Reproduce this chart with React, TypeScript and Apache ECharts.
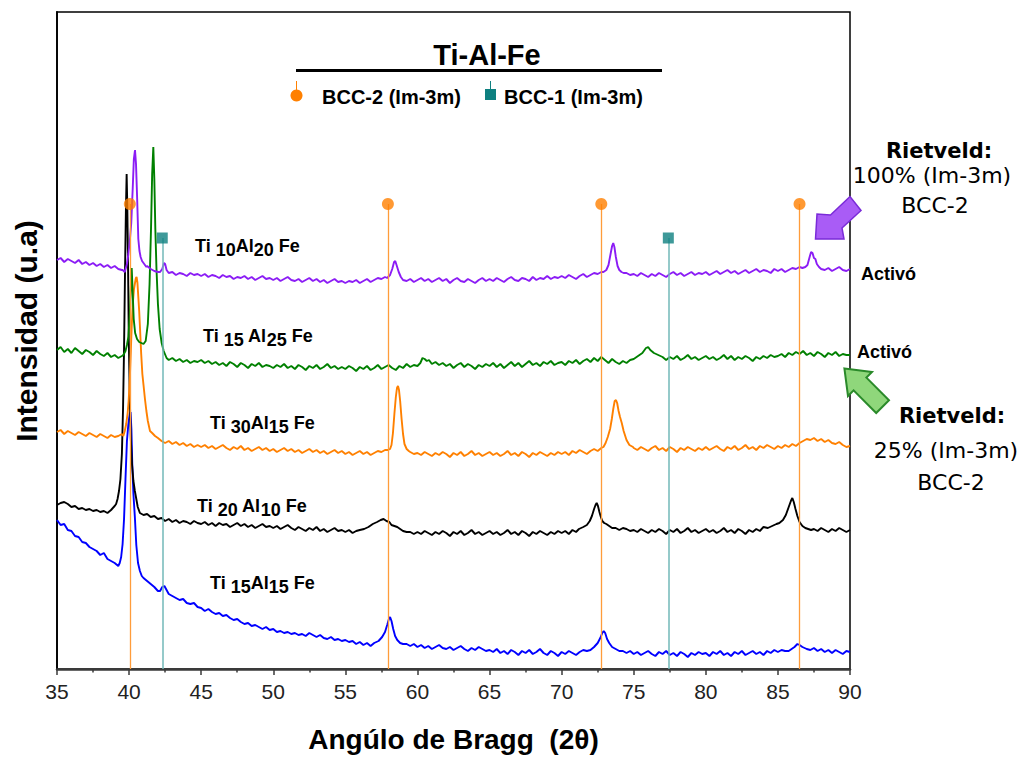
import React, { useEffect, useRef } from "react";
import * as echarts from "echarts";

// ---- sampling grid of the base (noise) curves: 35 .. 90 step 0.25 ----
const X0 = 35;
const STEP = 0.25;

// ---- Ti10Al20Fe (purple) ----
const purpleBase = [
  409,411,407,410,408,406,409,405,407,404,406,403,405,402,404,401,403,400,399,401,
  400,400,400,402,401,403,400,398,397,399,398,396,397,394,396,395,393,396,394,395,
  393,395,392,394,393,391,394,392,393,390,392,391,393,390,392,389,391,393,390,391,
  389,391,388,390,392,389,388,390,387,389,391,388,390,387,389,386,388,390,387,388,
  386,388,387,389,386,388,390,387,389,391,390,392,391,393,391,390,389,388,390,387,
  389,391,388,390,387,389,391,388,390,386,389,391,388,387,390,388,386,389,391,388,
  390,388,391,389,387,390,392,389,388,391,390,388,392,389,391,390,393,390,392,391,
  393,391,394,392,390,393,395,392,394,396,395,397,398,400,400,400,398,397,396,394,
  395,393,396,394,392,395,393,396,394,392,395,397,394,396,393,395,397,394,396,395,
  397,394,396,398,395,397,399,396,398,395,397,399,396,398,400,397,399,398,396,400,
  398,400,397,399,401,400,402,401,403,404,403,402,401,399,401,398,400,402,399,398,
  400,
];
const purplePeaks: [number, number][][] = [
  [[39.55,399],[39.7,397],[39.85,405],[39.95,415],[40.05,428],[40.15,446],[40.25,480],[40.33,510],[40.41,519],[40.48,505],[40.56,470],[40.64,430],[40.72,418],[40.8,412],[40.9,408],[41.0,406],[41.1,404],[41.2,402]],
  [[42.15,397],[42.3,400],[42.42,406],[42.5,405],[42.6,399],[42.75,396]],
  [[57.9,391],[58.1,394],[58.25,400],[58.38,407],[58.46,408],[58.55,404],[58.7,397],[58.85,392],[59.0,389]],
  [[72.9,397],[73.1,399],[73.25,404],[73.38,414],[73.5,423],[73.58,426],[73.66,422],[73.76,412],[73.88,403],[74.0,399],[74.15,397],[74.3,396]],
  [[86.7,401],[86.9,402],[87.05,404],[87.2,412],[87.3,417],[87.4,416],[87.5,411],[87.6,410],[87.7,405],[87.85,402],[88.0,400]],
];

// ---- Ti15Al25Fe (green) ----
const greenBase = [
  319,322,317,320,316,321,318,315,319,317,314,318,315,313,316,312,314,311,313,315,
  320,320,320,320,320,320,320,320,320,320,312,309,311,308,310,307,309,306,308,307,
  309,306,308,305,307,304,306,303,307,305,302,306,304,301,305,303,306,302,304,303,
  301,304,302,305,301,303,300,304,302,299,303,301,304,300,302,305,301,303,300,302,
  300,303,301,298,302,300,303,299,301,304,300,302,304,301,299,303,301,305,302,304,
  303,306,310,308,305,307,304,306,303,305,301,304,306,302,305,303,300,304,302,305,
  303,306,302,305,301,304,307,303,306,302,305,308,304,306,303,307,305,308,304,306,
  307,304,308,306,309,305,308,310,307,311,308,312,309,306,310,307,305,308,306,309,
  310,312,315,318,320,318,315,312,311,309,312,310,313,309,311,314,310,312,309,311,
  313,310,312,309,311,314,310,313,309,312,310,313,311,308,312,310,313,311,314,312,
  313,315,312,316,314,317,315,318,314,316,313,317,315,312,316,314,317,313,315,314,
  314,
];
const greenPeaks: [number, number][][] = [
  [[39.6,314],[39.75,318],[39.85,324],[39.95,332],[40.05,355],[40.13,385],[40.18,401],[40.24,380],[40.32,350],[40.42,336],[40.55,330],[40.7,327],[40.85,326],[41.0,325],[41.15,328],[41.3,345],[41.42,385],[41.52,440],[41.6,495],[41.68,522],[41.75,490],[41.82,440],[41.9,400],[42.0,365],[42.12,340],[42.26,326],[42.4,318],[42.6,311]],
  [[60.0,303],[60.2,306],[60.35,311],[60.5,310],[60.65,308],[60.8,309],[61.0,305]],
  [[75.0,310],[75.3,313],[75.6,316],[75.85,321],[76.0,322],[76.15,319],[76.4,316],[76.7,314],[77.0,312]],
];

// ---- Ti30Al15Fe (orange) ----
const orangeBase = [
  237,239,235,238,236,234,237,235,233,236,234,232,235,233,231,234,232,233,235,236,
  240,240,240,240,240,240,240,240,231,228,226,228,225,227,224,226,223,225,222,224,
  222,224,221,223,220,222,224,221,219,222,220,223,219,221,218,220,222,219,221,218,
  220,217,219,221,218,220,217,219,216,218,220,217,219,216,218,215,217,219,216,218,
  215,217,214,216,218,215,217,214,216,218,217,219,220,220,220,220,220,220,217,215,
  216,214,217,215,213,216,214,217,215,212,216,214,217,213,215,218,214,216,213,215,
  217,214,216,213,215,218,214,216,213,217,215,212,216,214,217,215,213,216,214,217,
  215,217,214,218,216,219,217,215,218,220,218,221,222,230,240,260,265,245,230,222,
  221,219,222,220,218,221,223,219,221,218,222,220,217,221,219,222,220,218,221,219,
  222,219,221,223,220,218,222,220,223,219,221,224,220,222,219,223,221,224,222,220,
  223,221,224,222,225,223,226,228,230,229,231,228,230,227,229,226,225,227,224,222,
  223,
];
const orangePeaks: [number, number][][] = [
  [[39.6,233],[39.7,238],[39.8,245],[39.9,256],[39.97,268],[40.05,290],[40.12,318],[40.18,342],[40.26,366],[40.34,380],[40.41,386],[40.47,391],[40.52,392],[40.58,386],[40.64,372],[40.7,358],[40.76,340],[40.84,315],[40.92,295],[41.0,284],[41.1,270],[41.2,258],[41.3,248],[41.45,238],[41.6,236],[41.8,233],[42.0,231]],
  [[57.95,219],[58.1,220],[58.2,224],[58.3,236],[58.4,255],[58.5,272],[58.58,281],[58.65,283],[58.72,279],[58.8,268],[58.9,250],[59.0,235],[59.1,225],[59.25,220],[59.4,218]],
  [[72.75,221],[72.9,222],[73.05,226],[73.2,232],[73.36,240],[73.48,250],[73.58,260],[73.68,268],[73.77,269],[73.85,266],[73.95,258],[74.05,252],[74.17,246],[74.3,238],[74.5,229],[74.7,224],[74.95,222]],
];

// ---- Ti20Al10Fe (black) ----
const blackBase = [
  164,166,167,165,162,163,160,161,159,160,158,159,157,158,156,159,163,170,170,170,
  170,170,170,156,154,155,152,153,150,151,148,150,147,149,146,148,147,145,148,146,
  145,147,144,146,143,146,144,145,142,144,146,143,145,142,144,141,143,145,142,143,
  141,143,140,142,144,141,139,142,140,138,141,139,142,138,140,137,139,141,138,139,
  137,139,136,138,140,140,140,140,140,140,140,140,140,140,140,140,140,140,137,135,
  137,135,138,136,134,137,135,138,136,133,137,135,138,134,136,139,135,137,134,136,
  138,135,137,134,136,139,135,137,134,138,136,133,137,135,138,136,134,137,135,138,
  136,138,135,139,137,140,140,140,140,140,140,140,140,140,140,141,139,141,140,138,
  139,137,140,138,136,139,137,140,138,135,139,137,140,136,138,141,137,139,136,138,
  140,137,139,136,138,141,137,139,136,140,138,135,139,137,140,138,145,145,145,145,
  145,145,145,145,145,145,145,145,145,145,140,138,141,139,137,140,138,141,139,137,
  139,
];
const blackPeaks: [number, number][][] = [
  [[39.1,165],[39.2,170],[39.3,178],[39.4,190],[39.5,215],[39.58,260],[39.65,320],[39.72,400],[39.78,460],[39.83,495],[39.88,460],[39.93,400],[39.98,330],[40.05,270],[40.12,230],[40.2,205],[40.3,188],[40.4,178],[40.5,170],[40.6,162]],
  [[56.0,139],[56.3,140],[56.6,142],[56.9,145],[57.2,147],[57.45,149],[57.65,150],[57.85,148],[58.05,147],[58.2,144],[58.4,143],[58.6,142],[58.8,140],[59.0,138],[59.25,137]],
  [[71.2,140],[71.5,142],[71.75,144],[71.95,148],[72.1,153],[72.25,160],[72.35,164],[72.43,166],[72.52,163],[72.62,157],[72.72,152],[72.82,148],[72.95,146],[73.1,145],[73.3,143],[73.5,141]],
  [[84.0,142],[84.3,141],[84.6,143],[84.9,145],[85.1,146],[85.35,149],[85.55,154],[85.75,162],[85.9,168],[86.0,171],[86.1,167],[86.22,160],[86.35,153],[86.5,147],[86.7,143],[86.9,141],[87.1,140],[87.3,139]],
];

// ---- Ti15Al15Fe (blue) ----
const blueBase = [
  149,144,145,139,138,133,132,127,126,122,120,118,114,116,110,108,106,103,110,110,
  110,110,110,110,90,88,85,82,78,80,80,80,73,71,69,70,66,65,66,62,
  61,58,60,57,55,56,53,54,51,49,50,47,45,46,43,44,42,40,42,39,
  40,37,38,36,37,35,36,34,35,33,36,34,32,34,31,30,32,29,30,28,
  29,27,28,25,27,24,26,23,30,30,30,30,30,30,30,30,30,25,23,25,
  22,24,21,23,20,22,24,21,20,22,19,21,23,20,18,21,19,22,20,18,
  19,17,20,16,18,15,19,17,14,18,16,19,15,17,20,16,14,18,16,13,
  17,15,18,16,14,17,19,18,25,25,25,25,25,25,25,25,25,18,16,18,
  15,17,14,16,18,15,13,17,15,18,14,16,13,17,15,12,16,14,17,15,
  16,13,17,15,18,14,16,13,17,15,18,14,16,18,15,17,14,18,16,19,
  17,19,18,22,22,22,22,22,22,19,21,18,20,17,19,16,19,17,15,18,
  17,
];
const bluePeaks: [number, number][][] = [
  [[39.35,106],[39.45,112],[39.55,125],[39.65,150],[39.75,190],[39.85,228],[39.95,245],[40.04,255],[40.1,257],[40.16,240],[40.22,205],[40.3,175],[40.4,152],[40.5,124],[40.62,106],[40.75,98],[40.88,93],[41.0,91]],
  [[42.15,78],[42.3,82],[42.45,83],[42.6,79],[42.75,75]],
  [[57.0,26],[57.3,28],[57.55,32],[57.75,37],[57.9,44],[58.02,50],[58.1,52],[58.2,48],[58.32,40],[58.45,33],[58.6,29],[58.8,26],[59.0,25]],
  [[72.0,19],[72.25,22],[72.5,26],[72.68,31],[72.82,36],[72.92,38],[73.02,36],[73.15,30],[73.3,26],[73.5,22],[73.75,20],[74.0,18]],
  [[85.75,18],[85.95,20],[86.15,22],[86.35,25],[86.5,24],[86.7,22],[86.85,21],[87.0,20]],
];

// ---- reference phase positions ----
const bcc2Pos = [40.05, 57.95, 72.75, 86.5];
const bcc2Height = 465;
const bcc1Pos = [42.3, 77.4];
const bcc1Height = 431;

// ---- texts ----
const sampleLabels = [
  { text: "{m|Ti }{s|10}{m|Al}{s|20}{m| Fe}", x: 195, base: 248 },
  { text: "{m|Ti }{s|15}{m| Al}{s|25}{m| Fe}", x: 203, base: 338 },
  { text: "{m|Ti }{s|30}{m|Al}{s|15}{m| Fe}", x: 210, base: 425 },
  { text: "{m|Ti }{s|20}{m| Al}{s|10}{m| Fe}", x: 197, base: 508 },
  { text: "{m|Ti }{s|15}{m|Al}{s|15}{m| Fe}", x: 210, base: 585 },
];

function build(base: number[], peaks: [number, number][][]) {
  const pts: [number, number][] = [];
  base.forEach((v, i) => {
    const x = X0 + i * STEP;
    if (peaks.some((p) => x >= p[0][0] && x <= p[p.length - 1][0])) return;
    pts.push([x, v]);
  });
  peaks.forEach((p) => p.forEach((q) => pts.push([q[0], q[1]])));
  pts.sort((a, b) => a[0] - b[0]);
  return pts;
}

const SANS = "'Liberation Sans', Arial, sans-serif";
const WIDE = "'DejaVu Sans', Verdana, sans-serif";

export default function App() {
  const ref = useRef<HTMLDivElement>(null);
  useEffect(() => {
    document.body.style.margin = "0";
    if (!ref.current) return;
    const chart = echarts.init(ref.current, undefined, { renderer: "svg" });

    const lineSeries = (name: string, data: [number, number][], color: string, z: number) => ({
      type: "line",
      name,
      data,
      showSymbol: false,
      symbol: "none",
      silent: true,
      z,
      lineStyle: { color, width: 1.9 },
      emphasis: { disabled: true },
    });

    const textEl = (text: string, x: number, y: number, font: string, align = "left") => ({
      type: "text",
      x,
      y,
      z: 100,
      silent: true,
      style: { text, font, fill: "#000", align, verticalAlign: "middle" },
    });

    const graphic: any[] = [
      // y axis title
      {
        type: "text",
        x: 26,
        y: 331,
        rotation: Math.PI / 2,
        z: 100,
        silent: true,
        style: { text: "Intensidad (u.a)", font: `bold 30px ${SANS}`, fill: "#000", align: "center", verticalAlign: "middle" },
      },
      // legend title and line
      textEl("Ti-Al-Fe", 487, 55, `bold 29px ${SANS}`, "center"),
      { type: "line", z: 100, silent: true, shape: { x1: 296, y1: 70.5, x2: 662, y2: 70.5 }, style: { stroke: "#000", lineWidth: 3 } },
      // legend items
      { type: "line", z: 100, silent: true, shape: { x1: 296.5, y1: 81, x2: 296.5, y2: 90 }, style: { stroke: "#FF8000", lineWidth: 1 } },
      { type: "circle", z: 100, silent: true, shape: { cx: 296.5, cy: 95.5, r: 6 }, style: { fill: "#FF8000" } },
      textEl("BCC-2 (Im-3m)", 322, 97, `bold 20px ${SANS}`),
      { type: "line", z: 100, silent: true, shape: { x1: 490.5, y1: 81, x2: 490.5, y2: 89 }, style: { stroke: "#0E8080", lineWidth: 1 } },
      { type: "rect", z: 100, silent: true, shape: { x: 485, y: 89, width: 11, height: 11 }, style: { fill: "#0E8080" } },
      textEl("BCC-1 (Im-3m)", 504, 97, `bold 20px ${SANS}`),
      // Activó
      textEl("Activó", 861, 274, `bold 18px ${SANS}`),
      textEl("Activó", 857, 352, `bold 18px ${SANS}`),
      // Rietveld annotations
      textEl("Rietveld:", 939, 151, `bold 21px ${WIDE}`, "center"),
      textEl("100% (Im-3m)", 932, 175, `22px ${WIDE}`, "center"),
      textEl("BCC-2", 935, 205, `22px ${WIDE}`, "center"),
      textEl("Rietveld:", 952, 416, `bold 21px ${WIDE}`, "center"),
      textEl("25% (Im-3m)", 946, 450, `22px ${WIDE}`, "center"),
      textEl("BCC-2", 951, 482, `22px ${WIDE}`, "center"),
      // arrows
      {
        type: "polygon",
        z: 50,
        silent: true,
        shape: { points: [[815.5, 239], [844, 239], [842, 228], [861, 210.5], [850, 196.5], [830.5, 215], [817, 214]] },
        style: { fill: "#A95CF6", stroke: "#7A2BD8", lineWidth: 1.5 },
      },
      {
        type: "polygon",
        z: 50,
        silent: true,
        shape: { points: [[844.4, 368.4], [872, 372], [866.4, 377.6], [889, 400.2], [876.2, 413], [853.6, 390.4], [848, 396]] },
        style: { fill: "#8FD77B", stroke: "#2A8A2A", lineWidth: 2 },
      },
    ];

    sampleLabels.forEach((l) => {
      graphic.push({
        type: "text",
        x: l.x,
        y: l.base - 11,
        z: 100,
        silent: true,
        style: {
          text: l.text,
          align: "left",
          verticalAlign: "top",
          rich: {
            m: { font: `bold 18px ${SANS}`, fill: "#000", lineHeight: 10, verticalAlign: "top" },
            s: { font: `bold 18px ${SANS}`, fill: "#000", lineHeight: 26 },
          },
        },
      });
    });

    chart.setOption({
      animation: false,
      backgroundColor: "#fff",
      grid: { left: 57, right: 172, top: 12, bottom: 89, show: true, borderColor: "#000", borderWidth: 1.5, backgroundColor: "transparent" },
      xAxis: {
        type: "value",
        min: 35,
        max: 90,
        interval: 5,
        axisLine: { show: true, onZero: false, lineStyle: { color: "#3a3a3a", width: 2.5 } },
        axisTick: { show: true, inside: false, length: 6, lineStyle: { color: "#3a3a3a", width: 1.5 } },
        minorTick: { show: true, splitNumber: 2, length: 3.5, lineStyle: { color: "#3a3a3a", width: 1.5 } },
        splitLine: { show: false },
        axisLabel: { fontSize: 21, color: "#222", fontFamily: SANS, margin: 12 },
        name: "Angúlo de Bragg  (2θ)",
        nameLocation: "middle",
        nameGap: 56,
        nameTextStyle: { fontSize: 28, fontWeight: "bold", color: "#000", fontFamily: SANS },
      },
      yAxis: {
        type: "value",
        min: 0,
        max: 657,
        axisLine: { show: true, lineStyle: { color: "#000", width: 1.8 } },
        axisTick: { show: false },
        axisLabel: { show: false },
        splitLine: { show: false },
      },
      series: [
        lineSeries("Ti15Al15Fe", build(blueBase, bluePeaks), "#0000FF", 2),
        lineSeries("Ti20Al10Fe", build(blackBase, blackPeaks), "#000000", 3),
        lineSeries("Ti30Al15Fe", build(orangeBase, orangePeaks), "#FF8000", 3),
        lineSeries("Ti15Al25Fe", build(greenBase, greenPeaks), "#008000", 4),
        lineSeries("Ti10Al20Fe", build(purpleBase, purplePeaks), "#8B1CF5", 4),
        {
          type: "scatter",
          name: "BCC-2 (Im-3m)",
          data: bcc2Pos.map((x) => [x, bcc2Height]),
          symbol: "circle",
          symbolSize: 12,
          itemStyle: { color: "#FF8000" },
          silent: true,
          z: 7,
          markLine: {
            silent: true,
            symbol: ["none", "none"],
            label: { show: false },
            lineStyle: { color: "#FF9C3A", width: 1.3, type: "solid" },
            data: bcc2Pos.map((x) => [{ coord: [x, 0] }, { coord: [x, bcc2Height] }]),
          },
        },
        {
          type: "scatter",
          name: "BCC-1 (Im-3m)",
          data: bcc1Pos.map((x) => [x, bcc1Height]),
          symbol: "rect",
          symbolSize: 11,
          itemStyle: { color: "#0E8080" },
          silent: true,
          z: 7,
          markLine: {
            silent: true,
            symbol: ["none", "none"],
            label: { show: false },
            lineStyle: { color: "#72B9B9", width: 1.5, type: "solid" },
            data: bcc1Pos.map((x) => [{ coord: [x, 0] }, { coord: [x, bcc1Height] }]),
          },
        },
      ],
      graphic,
    });
    return () => chart.dispose();
  }, []);
  return <div ref={ref} style={{ width: 1022, height: 758 }} />;
}
